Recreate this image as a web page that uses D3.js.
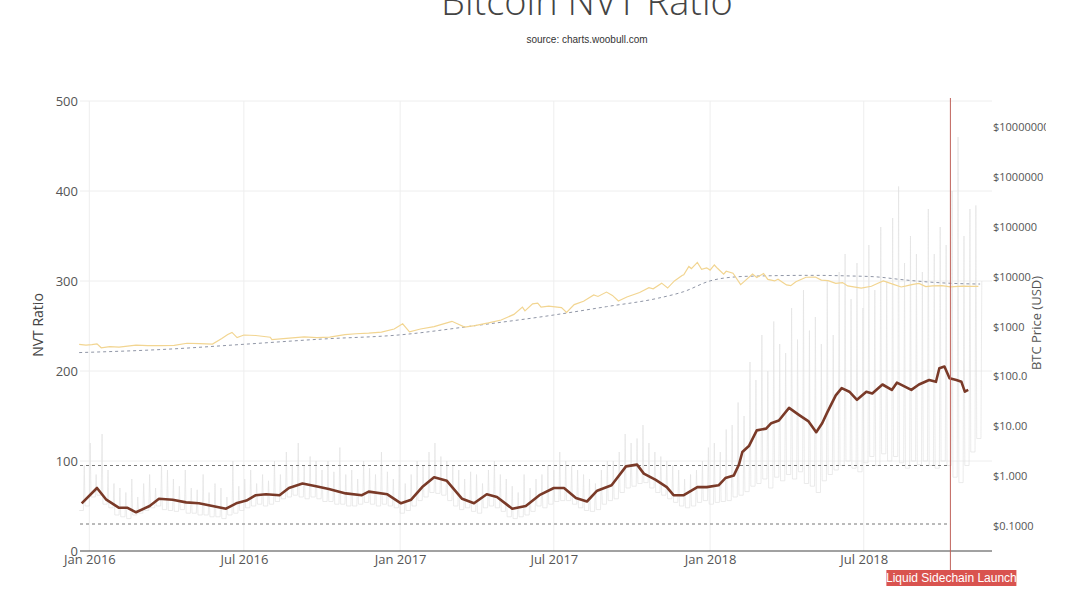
<!DOCTYPE html>
<html>
<head>
<meta charset="utf-8">
<script src="https://cdn.jsdelivr.net/npm/d3@7"></script>
<style>
body { margin: 0; background: #fff; }
svg { display: block; font-family: "Open Sans", sans-serif; }
</style>
</head>
<body>
<svg width="1080" height="603"></svg>
<script>
var parse = d3.timeParse("%Y-%m-%d");

/*
 * NVT ratio, smoothed (thick brown line)
 */
var nvtDates = ["2015-12-23","2016-01-10","2016-01-21","2016-02-05","2016-02-15","2016-02-25",
  "2016-03-12","2016-03-23","2016-04-08","2016-04-24","2016-05-09","2016-05-25","2016-06-10",
  "2016-06-22","2016-07-04","2016-07-15","2016-07-27","2016-08-12","2016-08-23","2016-09-08",
  "2016-09-24","2016-10-09","2016-10-29","2016-11-17","2016-11-25","2016-12-17","2017-01-02",
  "2017-01-14","2017-01-27","2017-02-10","2017-02-25","2017-03-15","2017-03-29","2017-04-13",
  "2017-04-25","2017-05-13","2017-05-29","2017-06-14","2017-07-01","2017-07-13","2017-07-27",
  "2017-08-09","2017-08-21","2017-09-07","2017-09-24","2017-10-07","2017-10-15","2017-10-29",
  "2017-11-11","2017-11-19","2017-12-01","2017-12-17","2017-12-28","2018-01-11","2018-01-19",
  "2018-01-29","2018-02-04","2018-02-08","2018-02-16","2018-02-25","2018-03-08","2018-03-14",
  "2018-03-23","2018-04-04","2018-04-16","2018-04-27","2018-05-06","2018-05-13","2018-05-19",
  "2018-05-29","2018-06-05","2018-06-14","2018-06-23","2018-07-04","2018-07-11","2018-07-23",
  "2018-08-03","2018-08-09","2018-08-26","2018-09-04","2018-09-16","2018-09-24","2018-09-28",
  "2018-10-04","2018-10-10","2018-10-18","2018-10-24","2018-10-28","2018-11-01"];
var nvtValues = [53,70,57,48,48,43,
  50,58,57,54,53,50,47,
  53,56,62,63,62,70,75,
  72,69,64,62,66,63,53,
  57,71,82,78,58,53,63,
  60,47,50,62,70,70,59,
  55,67,73,94,96,86,79,
  71,62,62,71,71,73,81,
  84,96,110,117,134,136,142,
  145,159,151,144,132,142,154,
  173,181,177,168,177,175,185,
  179,187,179,185,190,188,203,
  205,192,190,188,177,179];

/*
 * Daily NVT (thin grey), two readings per week from 2015-12-20: [weekend spike, weekday low]
 */
var nvtDailyStart = "2015-12-20";
var nvtDaily = [
  95,45, 120,50,
  85,60, 130,62, 90,52, 75,48,
  70,40, 65,38, 80,36, 60,40,
  75,42, 85,45, 70,48, 95,50, 90,46,
  80,45, 72,44, 90,46, 70,42,
  68,42, 85,40, 65,40, 75,38,
  70,38, 60,36, 100,40, 72,42,
  80,45, 90,48, 75,50, 85,52, 78,50,
  100,52, 85,55, 110,58, 95,60,
  120,62, 95,60, 105,58, 100,60, 90,58,
  100,55, 88,55, 115,52, 85,52,
  90,50, 80,50, 100,52, 92,54,
  85,52, 110,50, 88,52, 80,50, 95,48,
  75,42, 85,45, 100,50, 95,56,
  110,60, 120,65, 105,64, 100,62,
  95,56, 90,50, 80,46, 88,48, 85,44,
  75,42, 90,48, 100,50, 85,48,
  80,44, 72,38, 65,36, 85,38,
  70,40, 80,44, 85,50, 95,48, 90,52,
  110,55, 100,56, 95,56, 90,52, 85,48,
  80,45, 75,44, 90,46, 100,52,
  100,56, 110,58, 130,65, 120,70, 125,72,
  140,75, 120,76, 110,70, 105,65,
  100,62, 95,58, 90,54, 80,50,
  85,48, 90,50, 100,54, 115,56,
  120,52, 110,54, 135,55, 140,56,
  165,60, 150,62, 210,66, 190,72,
  240,75, 200,80, 255,70, 230,82, 220,78,
  270,85, 235,80, 290,88, 245,75,
  260,72, 230,65, 300,78, 240,85, 310,90,
  330,95, 280,100, 320,92, 270,88,
  340,98, 290,105, 360,95, 300,108, 370,100,
  405,105, 320,98, 350,92, 330,100, 310,96,
  380,100, 330,95, 360,92, 340,100,
  400,95, 460,82, 350,76, 380,95,
  384,110, 300,125];

/*
 * BTC price in USD (yellow, right log axis)
 */
var priceDates = ["2015-12-20","2015-12-28","2016-01-04","2016-01-10","2016-01-15","2016-01-25",
  "2016-02-05","2016-02-15","2016-02-25","2016-03-10","2016-03-25","2016-04-10","2016-04-25",
  "2016-05-10","2016-05-25","2016-06-05","2016-06-12","2016-06-17","2016-06-23","2016-07-01",
  "2016-07-15","2016-08-01","2016-08-03","2016-08-20","2016-09-10","2016-09-25","2016-10-10",
  "2016-10-28","2016-11-10","2016-11-25","2016-12-10","2016-12-25","2017-01-04","2017-01-12",
  "2017-01-25","2017-02-10","2017-02-25","2017-03-03","2017-03-10","2017-03-18","2017-03-30",
  "2017-04-15","2017-04-30","2017-05-15","2017-05-25","2017-05-28","2017-06-06","2017-06-12",
  "2017-06-16","2017-06-25","2017-07-10","2017-07-16","2017-07-25","2017-08-05","2017-08-17",
  "2017-08-22","2017-09-01","2017-09-08","2017-09-15","2017-09-25","2017-10-10","2017-10-21",
  "2017-10-26","2017-11-05","2017-11-12","2017-11-20","2017-11-29","2017-12-01","2017-12-07",
  "2017-12-10","2017-12-17","2017-12-22","2017-12-28","2018-01-01","2018-01-06","2018-01-10",
  "2018-01-17","2018-01-20","2018-01-28","2018-02-06","2018-02-12","2018-02-20","2018-02-25",
  "2018-03-05","2018-03-10","2018-03-18","2018-03-22","2018-04-01","2018-04-06","2018-04-12",
  "2018-04-24","2018-05-05","2018-05-12","2018-05-20","2018-05-29","2018-06-06","2018-06-12",
  "2018-06-28","2018-07-10","2018-07-17","2018-07-24","2018-08-05","2018-08-14","2018-08-20",
  "2018-08-28","2018-09-04","2018-09-12","2018-09-20","2018-10-01","2018-10-11","2018-10-25",
  "2018-11-05","2018-11-13"];
var priceValues = [440,425,432,448,375,395,
  385,405,425,412,415,420,462,
  452,445,575,690,760,600,675,
  660,610,545,580,620,600,615,
  690,715,735,770,890,1130,780,
  890,995,1180,1270,1120,970,1040,
  1180,1350,1750,2450,2050,2850,2950,
  2450,2550,2400,1920,2750,3200,4300,
  4000,4900,4200,3250,3900,4800,6000,
  5700,7400,5900,8200,10500,10900,16000,
  14500,19300,14000,15000,13500,17100,14500,
  11200,12800,11700,6900,8500,11300,9600,
  11500,8800,8200,8900,6800,6600,7900,
  9700,9800,8500,8300,7300,7600,6500,
  5900,6400,7300,8200,7000,6200,6500,
  7000,7300,6300,6500,6600,6250,6450,
  6400,6350];

/*
 * Long moving average of price (grey dashed)
 */
var maDates = ["2015-12-20","2016-04-01","2016-07-01","2016-10-01","2017-01-01","2017-04-01",
  "2017-07-01","2017-09-01","2017-11-01","2017-12-01","2018-01-01","2018-02-01","2018-03-01",
  "2018-05-01","2018-06-15","2018-07-15","2018-08-15","2018-09-15","2018-10-15","2018-11-15"];
var maValues = [300,350,440,560,680,1050,
  1700,2500,3700,5000,8200,9900,10300,
  10600,10300,9900,8700,7800,7300,7100];

var bandValues = [95, 30];
var launchDate = "2018-10-11";
var launchLabel = "Liquid Sidechain Launch";

var leftTicks = [0, 100, 200, 300, 400, 500];
var rightTicks = [0.1, 1, 10, 100, 1000, 10000, 100000, 1000000, 10000000];
var rightTickLabels = ["$0.1000","$1.000","$10.00","$100.0","$1000","$10000","$100000","$1000000","$10000000"];
var xTickDates = ["2016-01-01","2016-07-01","2017-01-01","2017-07-01","2018-01-01","2018-07-01"];
var xTickLabels = ["Jan 2016","Jul 2016","Jan 2017","Jul 2017","Jan 2018","Jul 2018"];

function visualize() {
  var svg = d3.select("svg"),
    margin = {top: 101, right: 88, bottom: 52, left: 80},
    width = +svg.attr("width") - margin.left - margin.right,
    height = +svg.attr("height") - margin.top - margin.bottom,
    g = svg.append("g").attr("transform", "translate(" + margin.left + "," + margin.top + ")");

  var x = d3.scaleTime()
    .domain([parse("2015-12-21"), parse("2018-11-29")])
    .range([0, width]);
  var y = d3.scaleLinear().domain([0, 500]).range([height, 0]);
  var yp = d3.scaleLog().domain([Math.pow(10, -1.5), Math.pow(10, 7.52)]).range([height, 0]);

  var nvt = nvtDates.map(function(d, i) { return {date: parse(d), v: nvtValues[i]}; });
  var price = priceDates.map(function(d, i) { return {date: parse(d), v: priceValues[i]}; });
  var ma = maDates.map(function(d, i) { return {date: parse(d), v: maValues[i]}; });

  // each week: low held through the week, then a one-day spike at the weekend
  var s0 = parse(nvtDailyStart);
  var daily = [];
  for (var w = 0; w < nvtDaily.length / 2; w++) {
    var hi = nvtDaily[2 * w], lo = nvtDaily[2 * w + 1];
    daily.push({date: d3.timeDay.offset(s0, w * 7), v: lo});
    daily.push({date: d3.timeDay.offset(s0, w * 7 + 5), v: lo});
    daily.push({date: d3.timeDay.offset(s0, w * 7 + 6), v: hi});
  }

  // grid
  g.append("g").selectAll("line").data(leftTicks.slice(1)).enter().append("line")
    .attr("x1", 0).attr("x2", width)
    .attr("y1", function(d) { return y(d); }).attr("y2", function(d) { return y(d); })
    .attr("stroke", "#eeeeee");
  g.append("g").selectAll("line").data(xTickDates).enter().append("line")
    .attr("x1", function(d) { return x(parse(d)); }).attr("x2", function(d) { return x(parse(d)); })
    .attr("y1", 0).attr("y2", height)
    .attr("stroke", "#eeeeee");

  var lineL = d3.line().x(function(d) { return x(d.date); }).y(function(d) { return y(d.v); });
  var lineR = d3.line().x(function(d) { return x(d.date); }).y(function(d) { return yp(d.v); });

  g.append("path").datum(daily)
    .attr("d", lineL).attr("fill", "none")
    .attr("stroke", "#e3e3e3").attr("stroke-width", 0.7);

  var xLaunch = x(parse(launchDate));
  g.append("g").selectAll("line").data(bandValues).enter().append("line")
    .attr("x1", 0).attr("x2", xLaunch)
    .attr("y1", function(d) { return y(d); }).attr("y2", function(d) { return y(d); })
    .attr("stroke", "#777").attr("stroke-dasharray", "3,3");

  g.append("path").datum(ma)
    .attr("d", lineR.curve(d3.curveMonotoneX)).attr("fill", "none")
    .attr("stroke", "#9096a6").attr("stroke-width", 1).attr("stroke-dasharray", "3,3");

  g.append("path").datum(price)
    .attr("d", lineR.curve(d3.curveLinear)).attr("fill", "none")
    .attr("stroke", "#f2d591").attr("stroke-width", 1.2);

  g.append("path").datum(nvt)
    .attr("d", lineL).attr("fill", "none")
    .attr("stroke", "#7a3a28").attr("stroke-width", 2.6).attr("stroke-linejoin", "round");

  // zero axis line
  g.append("line").attr("x1", 0).attr("x2", width).attr("y1", height).attr("y2", height)
    .attr("stroke", "#444").attr("stroke-width", 1);

  // left axis
  g.append("g").call(d3.axisLeft(y).tickValues(leftTicks).tickSize(0).tickPadding(2))
    .call(function(a) { a.select(".domain").remove(); })
    .selectAll("text").attr("fill", "#555").attr("font-size", 13).attr("font-family", "Open Sans");

  // bottom axis
  g.append("g").attr("transform", "translate(0," + height + ")")
    .call(d3.axisBottom(x).tickValues(xTickDates.map(parse)).tickSize(0).tickPadding(4)
      .tickFormat(function(d, i) { return xTickLabels[i]; }))
    .call(function(a) { a.select(".domain").remove(); })
    .selectAll("text").attr("fill", "#555").attr("font-size", 13).attr("font-family", "Open Sans");

  // right axis, labels cut at the edge as in the source
  svg.append("clipPath").attr("id", "rclip").append("rect")
    .attr("x", -20).attr("y", -20).attr("width", 1046 - margin.left - width + 20).attr("height", 603);
  g.append("g").attr("clip-path", "url(#rclip)")
    .attr("transform", "translate(" + width + ",0)")
    .call(d3.axisRight(yp).tickValues(rightTicks).tickSize(0).tickPadding(1)
      .tickFormat(function(d, i) { return rightTickLabels[i]; }))
    .call(function(a) { a.select(".domain").remove(); })
    .selectAll("text").attr("fill", "#555").attr("font-size", 11).attr("font-family", "Open Sans");

  // launch marker
  g.append("line").attr("x1", xLaunch).attr("x2", xLaunch).attr("y1", -3).attr("y2", height + 19)
    .attr("stroke", "#c0635b").attr("stroke-width", 1);
  var lab = g.append("g").attr("transform", "translate(" + xLaunch + "," + (height + 19) + ")");
  lab.append("rect").attr("x", -64).attr("y", 0).attr("width", 130).attr("height", 16)
    .attr("fill", "#d9534f");
  lab.append("text").attr("x", 1).attr("y", 12).attr("text-anchor", "middle")
    .attr("fill", "#fff").attr("font-size", 12).attr("font-family", "Liberation Sans, Arial, sans-serif")
    .text(launchLabel);

  // titles
  svg.append("text").attr("x", 587).attr("y", 15).attr("text-anchor", "middle")
    .attr("font-size", 38).attr("font-weight", 300).attr("fill", "#444")
    .text("Bitcoin NVT Ratio");
  svg.append("text").attr("x", 587).attr("y", 43).attr("text-anchor", "middle")
    .attr("font-size", 10).attr("fill", "#333").attr("font-family", "Liberation Sans, Arial, sans-serif")
    .text("source: charts.woobull.com");
  svg.append("text").attr("transform", "translate(43,325) rotate(-90)").attr("text-anchor", "middle")
    .attr("font-size", 14).attr("fill", "#444").text("NVT Ratio");
  svg.append("text").attr("transform", "translate(1041,323) rotate(-90)").attr("text-anchor", "middle")
    .attr("font-size", 13).attr("fill", "#555").text("BTC Price (USD)");
}

visualize();
</script>
</body>
</html>
